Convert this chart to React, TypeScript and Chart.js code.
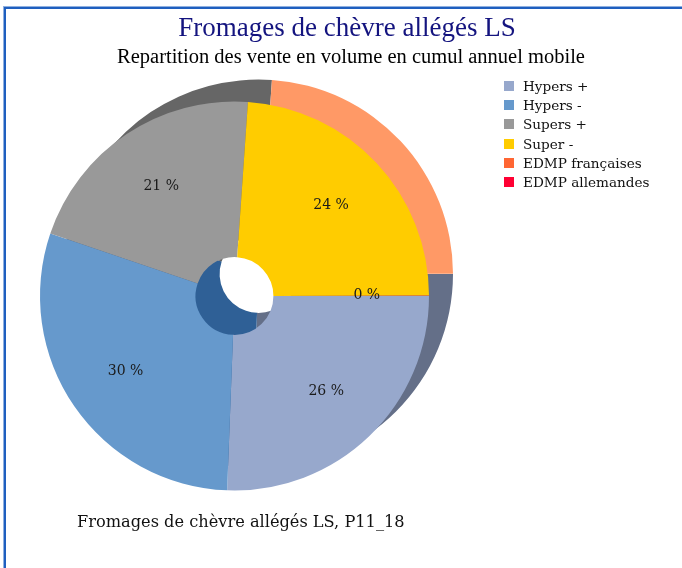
import React, { useEffect, useRef } from "react";
import { Chart, registerables } from "chart.js";

Chart.register(...registerables);

const categories = ["Hypers +", "Hypers -", "Supers +", "Super -", "EDMP françaises", "EDMP allemandes"];
const shares = [25.6, 29.6, 20.9, 23.86, 0.04, 0];
const sliceColors = ["#97A8CC", "#6699CC", "#999999", "#FFCC00", "#FF6633", "#FF0033"];
const shadowColors = ["#646F88", "#2F6096", "#666666", "#FF9966", "#FF9966", "#FF9966"];
const titleText = "Fromages de chèvre allégés LS";
const subtitleText = "Repartition des vente en volume en cumul annuel mobile";
const footerText = "Fromages de chèvre allégés LS, P11_18";

const SHADOW_DX = 24;
const SHADOW_DY = -22;

const shadowPlugin = {
  id: "shadowPie",
  beforeDatasetsDraw(chart: any) {
    const ctx = chart.ctx;
    const meta = chart.getDatasetMeta(0);
    ctx.save();
    meta.data.forEach((arc: any, i: number) => {
      const p = arc.getProps(["x", "y", "startAngle", "endAngle", "outerRadius", "innerRadius"], true);
      if (p.endAngle - p.startAngle <= 0) return;
      const cx = p.x + SHADOW_DX;
      const cy = p.y + SHADOW_DY;
      ctx.beginPath();
      ctx.arc(cx, cy, p.outerRadius, p.startAngle, p.endAngle);
      ctx.arc(cx, cy, p.innerRadius, p.endAngle, p.startAngle, true);
      ctx.closePath();
      ctx.fillStyle = shadowColors[i];
      ctx.fill();
    });
    ctx.restore();
  },
};

const labelPlugin = {
  id: "pctLabels",
  afterDatasetsDraw(chart: any) {
    const ctx = chart.ctx;
    const meta = chart.getDatasetMeta(0);
    const data = chart.data.datasets[0].data as number[];
    const total = data.reduce((a, b) => a + b, 0);
    ctx.save();
    ctx.font = "14px 'DejaVu Serif'";
    ctx.fillStyle = "#1a1a1a";
    ctx.textAlign = "center";
    ctx.textBaseline = "middle";
    meta.data.forEach((arc: any, i: number) => {
      if (!(data[i] > 0)) return;
      const p = arc.getProps(["x", "y", "startAngle", "endAngle", "outerRadius"], true);
      const mid = (p.startAngle + p.endAngle) / 2;
      const r = p.outerRadius * 0.68;
      const pct = Math.round((data[i] / total) * 100);
      ctx.fillText(pct + " %", p.x + Math.cos(mid) * r, p.y + Math.sin(mid) * r);
    });
    ctx.restore();
  },
};

export default function App() {
  const canvasRef = useRef<HTMLCanvasElement | null>(null);

  useEffect(() => {
    if (!canvasRef.current) return;
    const chart = new Chart(canvasRef.current, {
      type: "doughnut",
      data: {
        labels: categories,
        datasets: [
          {
            data: shares,
            backgroundColor: sliceColors,
            borderWidth: 0,
          },
        ],
      },
      options: {
        animation: false,
        responsive: false,
        maintainAspectRatio: false,
        rotation: 90,
        cutout: "20%",
        layout: { padding: { left: 40, right: 253, top: 101, bottom: 77 } },
        plugins: {
          legend: { display: false },
          title: { display: false },
          tooltip: { enabled: false },
        },
      },
      plugins: [shadowPlugin, labelPlugin],
    });
    return () => chart.destroy();
  }, []);

  return (
    <div
      style={{
        position: "fixed",
        left: 0,
        top: 0,
        width: 682,
        height: 568,
        background: "#ffffff",
        overflow: "hidden",
      }}
    >
      <div
        style={{
          position: "absolute",
          left: 4,
          top: 7,
          width: 700,
          height: 600,
          borderTop: "2px solid #1F5FBF",
          borderLeft: "2px solid #1F5FBF",
          boxShadow: "-1px -1px 0 #8FB0E0",
        }}
      />
      <canvas
        ref={canvasRef}
        width={682}
        height={568}
        style={{ position: "absolute", left: 0, top: 0, width: 682, height: 568 }}
      />
      <div
        style={{
          position: "absolute",
          left: 0,
          width: 694,
          top: 11,
          textAlign: "center",
          fontFamily: "'Liberation Serif', serif",
          fontSize: 27,
          lineHeight: "32px",
          color: "#14147F",
          whiteSpace: "nowrap",
        }}
      >
        {titleText}
      </div>
      <div
        style={{
          position: "absolute",
          left: 0,
          width: 702,
          top: 44,
          textAlign: "center",
          fontFamily: "'Liberation Serif', serif",
          fontSize: 20.5,
          lineHeight: "24px",
          color: "#000000",
          whiteSpace: "nowrap",
        }}
      >
        {subtitleText}
      </div>
      <div style={{ position: "absolute", left: 504, top: 76 }}>
        {categories.map((c, i) => (
          <div
            key={c}
            style={{
              display: "flex",
              alignItems: "center",
              height: 19.3,
              fontFamily: "'DejaVu Serif', serif",
              fontSize: 13.6,
              color: "#111",
              whiteSpace: "nowrap",
            }}
          >
            <span
              style={{
                display: "inline-block",
                width: 10,
                height: 10,
                background: sliceColors[i],
                marginRight: 9,
              }}
            />
            {c}
          </div>
        ))}
      </div>
      <div
        style={{
          position: "absolute",
          left: 77,
          top: 511,
          fontFamily: "'DejaVu Serif', serif",
          fontSize: 16.2,
          lineHeight: "22px",
          color: "#111",
          whiteSpace: "nowrap",
        }}
      >
        {footerText}
      </div>
    </div>
  );
}
